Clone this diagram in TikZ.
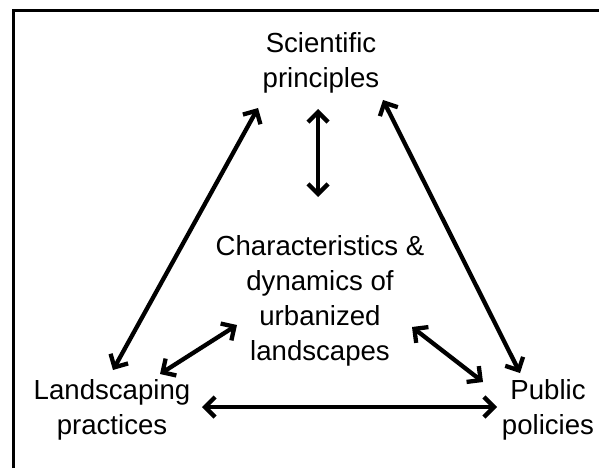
\documentclass[tikz,border=0pt]{standalone}
\usepackage{fontspec}
\setmainfont{Liberation Sans}
\usetikzlibrary{arrows.meta}
\begin{document}
\begin{tikzpicture}[x=1pt,y=-1pt,
  lbl/.style={inner sep=0pt,align=center,font=\fontsize{27.6}{35}\selectfont},
  link/.style={line width=4.3pt,{Straight Barb[length=10pt,width=20pt,line width=4.3pt]}-{Straight Barb[length=10pt,width=20pt,line width=4.3pt]}},
  frame/.style={line width=3.2pt}]
\useasboundingbox (0,0) rectangle (599,468);
\draw[frame] (13.5,468) -- (13.5,10.5) -- (599,10.5);
\node[lbl] (sci) at (321,62.5) {Scientific\\principles};
\node[lbl] (ch) at (320,300.5) {Characteristics \&\\dynamics of\\urbanized\\landscapes};
\node[lbl] (land) at (112,410) {Landscaping\\practices};
\node[lbl] (pub) at (548,410) {Public\\policies};
\draw[link] ([shift={(-3,46.5)}]sci.center) -- ([shift={(-2,-103.5)}]ch.center);
\draw[link] ([shift={(-63,45.5)}]sci.center) -- ([shift={(1,-40)}]land.center);
\draw[link] ([shift={(62,37.5)}]sci.center) -- ([shift={(-28,-37)}]pub.center);
\draw[link] ([shift={(-83,24.5)}]ch.center) -- ([shift={(48,-36)}]land.center);
\draw[link] ([shift={(92,26.5)}]ch.center) -- ([shift={(-65,-28)}]pub.center);
\draw[link] ([shift={(90,-3)}]land.center) -- ([shift={(-51,-3)}]pub.center);
\end{tikzpicture}
\end{document}
